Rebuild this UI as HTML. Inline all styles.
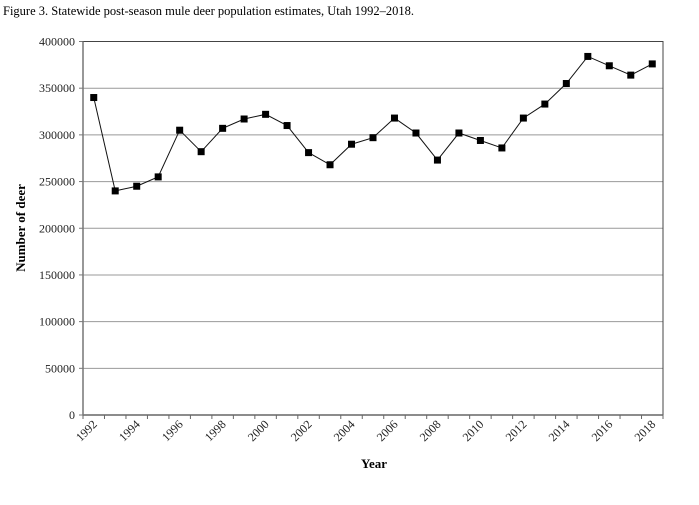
<!DOCTYPE html>
<html><head><meta charset="utf-8"><style>
body{margin:0;background:#fff;width:699px;height:500px;overflow:hidden}
svg{font-family:"Liberation Serif",serif}
</style></head><body>
<svg width="699" height="500">
<text x="3" y="15" font-size="12.5">Figure 3. Statewide post-season mule deer population estimates, Utah 1992–2018.</text>
<g id="grid"></g><g id="axes"></g><g id="series"></g>
<text x="25" y="228" font-size="13" font-weight="bold" text-anchor="middle" transform="rotate(-90 25 228)">Number of deer</text>
<text x="374" y="468" font-size="13" font-weight="bold" text-anchor="middle">Year</text>
</svg>
<script>
const years=[1992,1993,1994,1995,1996,1997,1998,1999,2000,2001,2002,2003,2004,2005,2006,2007,2008,2009,2010,2011,2012,2013,2014,2015,2016,2017,2018];
const deer=[340000,240000,245000,255000,305000,282000,307000,317000,322000,310000,281000,268000,290000,297000,318000,302000,273000,302000,294000,286000,318000,333000,355000,384000,374000,364000,376000];
const yTicks=[0,50000,100000,150000,200000,250000,300000,350000,400000];
const L=83,R=663,T=41.5,B=415,yMax=400000;
const ns="http://www.w3.org/2000/svg";
const bw=(R-L)/years.length;
const xs=i=>L+bw*(i+0.5);
const ys=v=>B-(v/yMax)*(B-T);
function mk(t,a,p){const e=document.createElementNS(ns,t);for(const k in a)e.setAttribute(k,a[k]);document.getElementById(p).appendChild(e);return e;}
yTicks.forEach(v=>{
 const y=ys(v);
 if(v>0){const g=mk('line',{x1:L,x2:R,y1:y,y2:y,stroke:'#999','stroke-width':1},'grid');
 
 }
 mk('line',{x1:L-4,x2:L,y1:y,y2:y,stroke:'#777'},'axes');
 const t=mk('text',{x:L-8,y:y+4,'text-anchor':'end','font-size':12,fill:'#222'},'axes');t.textContent=v;
 
 
});
const box=mk('rect',{x:L,y:T,width:R-L,height:B-T,fill:'none',stroke:'#444','stroke-width':1},'axes');


mk('line',{x1:L,x2:R,y1:B,y2:B,stroke:'#666','stroke-width':1.5},'axes');
mk('line',{x1:L,x2:L,y1:T,y2:B,stroke:'#777','stroke-width':1.5},'axes');
for(let i=0;i<=years.length;i++){const x=L+bw*i;mk('line',{x1:x,x2:x,y1:B,y2:B+4,stroke:'#666'},'axes');}
years.forEach((yr,i)=>{
 if(i%2)return;
 const x=xs(i)+4,y=425;
 const t=mk('text',{x:x,y:y,'text-anchor':'end','font-size':12,fill:'#222',transform:`rotate(-45 ${x} ${y})`},'axes');t.textContent=yr;
 
 
});
const line=mk('polyline',{points:deer.map((v,i)=>xs(i)+','+ys(v)).join(' '),fill:'none',stroke:'#111','stroke-width':1},'series');


deer.forEach((v,i)=>{
 const m=mk('rect',{x:xs(i)-3.5,y:ys(v)-3.5,width:7,height:7,fill:'#000'},'series');
 
 
});
</script>
</body></html>
